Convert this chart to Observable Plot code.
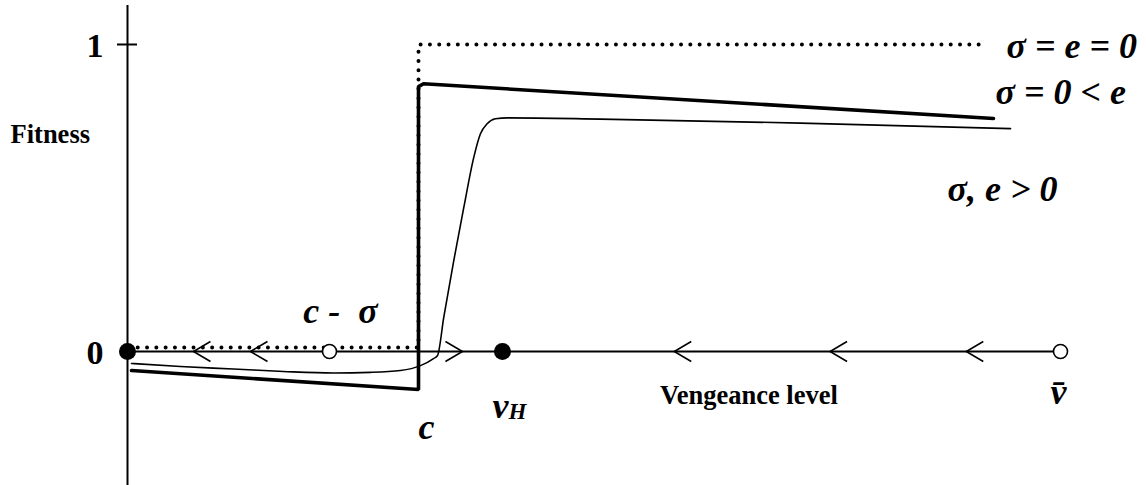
<!DOCTYPE html>
<html>
<head>
<meta charset="utf-8">
<script src="https://cdn.jsdelivr.net/npm/d3@7"></script>
<script src="https://cdn.jsdelivr.net/npm/@observablehq/plot@0.6"></script>
<style>
  html, body { margin: 0; padding: 0; background: #fff; }
  #chart svg { display: block; }
</style>
</head>
<body>
<div id="chart"></div>
<script>
// ---- data (x: vengeance level, 0..100 = v̄ ; y: fitness) ----
const yTickValues = [0, 1];
const yTickLabels = ["0", "1"];

// σ = e = 0 (dotted step)
const dottedX = [0.1, 31.19, 31.19, 92.1];
const dottedY = [0.013, 0.013, 1.0, 1.0];

// σ = 0 < e (thick)
const thickX = [0.43, 31.19, 31.19, 31.73, 92.82];
const thickY = [-0.062, -0.124, 0.863, 0.872, 0.759];

// σ, e > 0 (thin smooth)
const thinX = [0.43, 5.68, 11.36, 16.72, 22.08, 26.05, 29.26, 31.40, 32.80, 33.23, 33.90, 34.97, 36.05, 37.12, 37.83, 38.55, 39.44, 40.73, 50.70, 72.13, 94.64];
const thinY = [-0.039, -0.049, -0.057, -0.065, -0.070, -0.068, -0.062, -0.046, -0.023, -0.013, 0.112, 0.296, 0.470, 0.633, 0.709, 0.742, 0.758, 0.761, 0.757, 0.744, 0.726];

// equilibrium points on the axis
const pointX = [0, 21.65, 40.19, 100];
const pointFilled = [true, false, true, false];

// direction arrows on the axis
const arrowX = [7.07, 13.18, 35.9, 58.6, 75.3, 89.9];
const arrowDir = ["left", "left", "right", "left", "left", "left"];

// labels
const mathText = ["c - \u00A0σ", "c", "v", "v\u0304"];
const mathX = [22.83, 32.05, 39.98, 99.79];
const mathY = [0.129, -0.246, -0.1775, -0.132];
const subText = ["H"];
const subX = [41.8];
const subY = [-0.195];
const curveText = ["σ = e = 0", "σ = 0 < e", "σ, e > 0"];
const curveX = [94.21, 93.03, 87.89];
const curveY = [0.995, 0.845, 0.529];
const yTitle = "Fitness";
const yTitleX = -12.54, yTitleY = 0.708;
const xTitle = "Vengeance level";
const xTitleX = 66.6, xTitleY = -0.145;

// ---- build tables ----
const dotted = dottedX.map((x, i) => ({x, y: dottedY[i]}));
const thick = thickX.map((x, i) => ({x, y: thickY[i]}));
const thin = thinX.map((x, i) => ({x, y: thinY[i]}));
const points = pointX.map((x, i) => ({x, y: 0, filled: pointFilled[i]}));
const arrows = arrowX.map((x, i) => ({x, y: 0, dir: arrowDir[i]}));
const ticks = yTickValues.map((v, i) => ({y: v, label: yTickLabels[i]}));

const chevronLeft = {draw(ctx, size) { const r = Math.sqrt(size / Math.PI); ctx.moveTo(1.7 * r, -r); ctx.lineTo(0, 0); ctx.lineTo(1.7 * r, r); }};
const chevronRight = {draw(ctx, size) { const r = Math.sqrt(size / Math.PI); ctx.moveTo(-1.7 * r, -r); ctx.lineTo(0, 0); ctx.lineTo(-1.7 * r, r); }};

const serif = "'Liberation Serif', 'Times New Roman', serif";
const yMin = -0.4365, yMax = 1.1433, axisTop = 1.127, tickHalf = 1.07;

const chart = Plot.plot({
  width: 1146,
  height: 485,
  marginLeft: 127,
  marginRight: 86,
  marginTop: 0,
  marginBottom: 0,
  style: {background: "#fff", overflow: "visible"},
  x: {domain: [0, 100], axis: null},
  y: {domain: [yMin, yMax], axis: null},
  marks: [
    Plot.ruleX([0], {y1: yMin, y2: axisTop, stroke: "#000", strokeWidth: 2}),
    Plot.ruleY([0], {x1: 0, x2: 100, stroke: "#000", strokeWidth: 2}),
    Plot.ruleY(ticks.filter(d => d.y === 1), {y: "y", x1: -tickHalf, x2: tickHalf, stroke: "#000", strokeWidth: 2}),
    Plot.line(thick, {x: "x", y: "y", stroke: "#000", strokeWidth: 3.6, strokeLinejoin: "miter"}),
    Plot.line(dotted, {x: "x", y: "y", stroke: "#000", strokeWidth: 4, strokeDasharray: "0 9.3", strokeLinecap: "round"}),
    Plot.line(thin, {x: "x", y: "y", stroke: "#000", strokeWidth: 1.6, curve: "monotone-x"}),
    Plot.dot(arrows.filter(d => d.dir === "left"), {x: "x", y: "y", r: 10, symbol: chevronLeft, fill: "none", stroke: "#000", strokeWidth: 1.6}),
    Plot.dot(arrows.filter(d => d.dir === "right"), {x: "x", y: "y", r: 10, symbol: chevronRight, fill: "none", stroke: "#000", strokeWidth: 1.6}),
    Plot.dot(points.filter(d => d.filled), {x: "x", y: "y", r: 8.5, fill: "#000", stroke: "none"}),
    Plot.dot(points.filter(d => !d.filled), {x: "x", y: "y", r: 7, fill: "#fff", stroke: "#000", strokeWidth: 1.6}),
    Plot.text(ticks, {x: 0, y: "y", text: "label", dx: -24, dy: 2, textAnchor: "end", fontFamily: serif, fontWeight: "bold", fontSize: 34, fill: "#000"}),
    Plot.text([yTitle], {x: yTitleX, y: yTitleY, text: d => d, textAnchor: "start", fontFamily: serif, fontWeight: "bold", fontSize: 26.5, fill: "#000"}),
    Plot.text([xTitle], {x: xTitleX, y: xTitleY, text: d => d, textAnchor: "middle", fontFamily: serif, fontWeight: "bold", fontSize: 26.5, fill: "#000"}),
    Plot.text(mathText, {x: (d, i) => mathX[i], y: (d, i) => mathY[i], text: d => d, textAnchor: "middle", fontFamily: serif, fontWeight: "bold", fontStyle: "italic", fontSize: 36, fill: "#000"}),
    Plot.text(subText, {x: (d, i) => subX[i], y: (d, i) => subY[i], text: d => d, textAnchor: "middle", fontFamily: serif, fontWeight: "bold", fontStyle: "italic", fontSize: 23, fill: "#000"}),
    Plot.text(curveText, {x: (d, i) => curveX[i], y: (d, i) => curveY[i], text: d => d, textAnchor: "start", fontFamily: serif, fontWeight: "bold", fontStyle: "italic", fontSize: 36, fill: "#000"})
  ]
});
document.getElementById("chart").appendChild(chart);
</script>
</body>
</html>
